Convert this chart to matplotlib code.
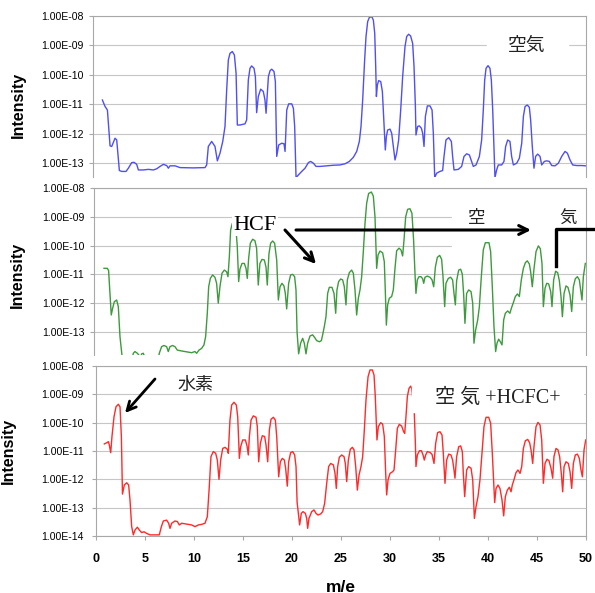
import numpy as np
import matplotlib.pyplot as plt
from matplotlib.patches import Rectangle, FancyArrowPatch
from matplotlib.lines import Line2D
from matplotlib.ticker import FixedLocator, NullLocator, FuncFormatter

plt.rcParams['font.family'] = ['Liberation Sans', 'Noto Sans CJK JP']

# (m/e, log10 intensity)
air = [(0.65, -10.86), (0.92, -11.08), (1.16, -11.20), (1.43, -12.42), (1.60, -12.44), (1.94, -12.16),
       (2.11, -12.22), (2.38, -13.26), (2.62, -13.29), (3.06, -13.29), (3.30, -13.18), (3.64, -12.99),
       (3.88, -12.98), (4.15, -13.05), (4.32, -13.24), (4.83, -13.24), (5.34, -13.22), (5.85, -13.24),
       (6.19, -13.20), (6.53, -13.12), (6.87, -13.05), (7.21, -13.09), (7.38, -13.18), (7.55, -13.10),
       (8.06, -13.10), (8.57, -13.16), (9.93, -13.17), (11.12, -13.16), (11.29, -13.07), (11.46, -12.44),
       (11.80, -12.27), (12.14, -12.44), (12.38, -12.93), (12.65, -12.67), (12.93, -12.27), (13.16, -11.76),
       (13.33, -10.52), (13.50, -9.50), (13.67, -9.27), (13.91, -9.21), (14.12, -9.33), (14.29, -9.95),
       (14.42, -11.71), (14.69, -11.71), (15.20, -11.67), (15.37, -11.54), (15.54, -10.18), (15.71, -9.78),
       (15.88, -9.70), (16.12, -9.78), (16.26, -10.06), (16.39, -11.29), (16.56, -10.74), (16.80, -10.49),
       (17.07, -10.57), (17.24, -10.86), (17.35, -11.31), (17.59, -10.06), (17.76, -9.86), (17.93, -9.81),
       (18.16, -9.89), (18.30, -10.23), (18.44, -12.78), (18.64, -12.39), (18.95, -12.33), (19.18, -12.35),
       (19.29, -12.61), (19.46, -11.20), (19.66, -10.99), (19.97, -10.99), (20.14, -11.14), (20.27, -11.76),
       (20.41, -13.50), (20.65, -13.41), (20.99, -13.29), (21.33, -13.18), (21.67, -12.99), (21.90, -12.95),
       (22.18, -13.01), (22.45, -13.12), (22.86, -13.12), (23.54, -13.10), (24.22, -13.08), (24.90, -13.07),
       (25.41, -13.03), (25.85, -12.95), (26.26, -12.81), (26.60, -12.61), (26.87, -12.27), (27.04, -11.76),
       (27.21, -10.86), (27.41, -9.50), (27.55, -8.70), (27.72, -8.19), (27.89, -8.05), (28.13, -8.02),
       (28.30, -8.14), (28.44, -8.59), (28.54, -9.72), (28.61, -10.74), (28.71, -10.35), (28.84, -10.20),
       (29.05, -10.23), (29.22, -10.57), (29.35, -11.42), (29.52, -12.56), (29.63, -12.10), (29.76, -11.88),
       (30.00, -11.85), (30.17, -11.99), (30.34, -12.44), (30.51, -12.90), (30.68, -12.67), (30.88, -12.22),
       (31.09, -11.20), (31.29, -10.06), (31.53, -9.04), (31.70, -8.70), (31.90, -8.62), (32.10, -8.68),
       (32.31, -8.93), (32.45, -9.72), (32.59, -11.08), (32.65, -12.05), (32.82, -11.76), (32.99, -11.74),
       (33.20, -11.82), (33.33, -11.99), (33.47, -12.44), (33.61, -11.42), (33.81, -11.06), (34.08, -11.06),
       (34.29, -11.20), (34.42, -11.99), (34.56, -13.50), (34.76, -13.35), (35.10, -13.29), (35.37, -13.26),
       (35.51, -12.78), (35.71, -12.22), (35.99, -12.14), (36.26, -12.27), (36.39, -12.78), (36.53, -13.24),
       (36.97, -13.22), (37.31, -13.12), (37.55, -12.78), (37.82, -12.69), (38.10, -12.73), (38.33, -12.95),
       (38.50, -13.12), (38.78, -13.07), (39.12, -12.78), (39.35, -12.22), (39.52, -11.20), (39.66, -10.18),
       (39.80, -9.78), (40.00, -9.69), (40.20, -9.78), (40.34, -10.18), (40.48, -11.20), (40.61, -12.44),
       (40.71, -13.50), (40.88, -13.24), (41.05, -13.07), (41.39, -13.07), (41.63, -12.95), (41.80, -12.44),
       (42.01, -12.22), (42.24, -12.27), (42.41, -12.78), (42.59, -13.07), (42.93, -13.01), (43.20, -12.84),
       (43.44, -12.33), (43.61, -11.42), (43.78, -11.08), (44.01, -11.03), (44.22, -11.11), (44.35, -11.54),
       (44.52, -12.44), (44.69, -13.18), (44.86, -12.78), (45.07, -12.70), (45.31, -12.78), (45.48, -13.07),
       (45.75, -12.95), (45.99, -12.93), (46.26, -12.95), (46.50, -13.09), (46.84, -13.10), (47.18, -13.01),
       (47.52, -12.78), (47.86, -12.61), (48.10, -12.67), (48.37, -12.90), (48.64, -13.07), (49.05, -13.09),
       (49.56, -13.09), (49.97, -13.10)]

hcf = [(0.82, -10.79), (1.16, -10.79), (1.29, -10.87), (1.43, -11.66), (1.56, -12.41), (1.70, -12.18),
       (1.87, -11.95), (2.11, -11.89), (2.28, -12.12), (2.45, -13.16), (2.65, -13.80), (2.80, -14.10),
       (3.60, -14.10), (3.81, -13.74), (3.98, -13.68), (4.22, -13.74), (4.42, -13.82), (4.55, -13.90),
       (4.66, -13.76), (4.83, -13.74), (4.95, -13.85), (5.20, -14.10), (6.30, -14.10), (6.46, -13.74),
       (6.70, -13.51), (6.94, -13.47), (7.21, -13.51), (7.38, -13.68), (7.55, -13.51), (7.82, -13.47),
       (8.06, -13.51), (8.30, -13.63), (8.74, -13.66), (9.25, -13.69), (9.76, -13.72), (10.10, -13.68),
       (10.27, -13.74), (10.51, -13.63), (10.78, -13.57), (11.02, -13.45), (11.19, -13.16), (11.36, -12.35),
       (11.50, -11.43), (11.67, -11.14), (11.90, -11.02), (12.14, -11.10), (12.31, -11.31), (12.48, -12.00),
       (12.65, -11.43), (12.86, -10.96), (13.10, -10.85), (13.33, -10.91), (13.47, -11.08), (13.61, -10.38),
       (13.74, -9.46), (13.91, -9.23), (14.12, -9.23), (14.29, -9.44), (14.42, -10.04), (14.56, -11.25),
       (14.69, -10.82), (14.90, -10.62), (15.14, -10.62), (15.31, -10.79), (15.44, -11.14), (15.58, -10.44),
       (15.75, -9.92), (15.99, -9.78), (16.22, -9.83), (16.39, -10.09), (16.56, -11.37), (16.73, -10.62),
       (16.94, -10.48), (17.18, -10.50), (17.35, -10.75), (17.48, -11.37), (17.65, -10.29), (17.82, -9.92),
       (18.03, -9.84), (18.23, -9.92), (18.44, -10.50), (18.61, -11.89), (18.78, -11.43), (18.98, -11.31),
       (19.18, -11.40), (19.32, -11.66), (19.46, -12.20), (19.66, -11.31), (19.86, -11.02), (20.07, -11.00),
       (20.27, -11.08), (20.41, -11.54), (20.52, -13.00), (20.68, -13.76), (20.88, -13.39), (21.09, -13.22),
       (21.26, -13.39), (21.43, -13.76), (21.60, -13.39), (21.84, -13.14), (22.11, -13.10), (22.31, -13.19),
       (22.52, -13.30), (22.79, -13.34), (23.00, -13.30), (23.13, -13.10), (23.30, -12.81), (23.47, -12.47),
       (23.64, -11.66), (23.81, -11.45), (24.08, -11.45), (24.29, -11.66), (24.46, -12.35), (24.59, -11.54),
       (24.76, -11.25), (24.97, -11.16), (25.17, -11.19), (25.34, -11.43), (25.51, -12.06), (25.65, -11.19),
       (25.85, -10.94), (26.09, -10.85), (26.26, -10.96), (26.43, -11.54), (26.60, -12.41), (26.77, -11.83),
       (26.94, -11.54), (27.11, -11.08), (27.28, -10.21), (27.45, -9.23), (27.62, -8.53), (27.82, -8.19),
       (28.10, -8.14), (28.30, -8.28), (28.47, -9.00), (28.57, -10.04), (28.64, -10.79), (28.78, -10.33),
       (28.98, -10.19), (29.25, -10.25), (29.42, -10.56), (29.52, -11.54), (29.63, -12.76), (29.76, -12.06),
       (29.93, -11.83), (30.17, -11.77), (30.34, -11.54), (30.51, -10.79), (30.68, -10.18), (30.92, -10.09),
       (31.12, -10.15), (31.29, -10.36), (31.43, -9.81), (31.60, -9.00), (31.80, -8.74), (32.04, -8.72),
       (32.24, -8.88), (32.41, -9.81), (32.55, -10.96), (32.65, -11.66), (32.79, -11.19), (32.96, -11.08),
       (33.16, -11.08), (33.33, -11.15), (33.44, -11.31), (33.57, -11.10), (33.81, -11.06), (34.08, -11.10),
       (34.29, -11.19), (34.46, -11.43), (34.63, -10.75), (34.83, -10.41), (35.07, -10.34), (35.27, -10.48),
       (35.41, -11.08), (35.58, -12.12), (35.71, -11.31), (35.95, -11.14), (36.19, -11.10), (36.39, -11.19),
       (36.53, -11.66), (36.67, -12.06), (36.80, -11.22), (37.01, -10.85), (37.21, -10.82), (37.38, -10.99),
       (37.52, -11.72), (37.65, -12.70), (37.82, -11.66), (38.03, -11.54), (38.27, -11.60), (38.44, -12.00),
       (38.57, -13.39), (38.74, -12.93), (38.95, -12.58), (39.12, -12.12), (39.32, -11.08), (39.52, -10.15),
       (39.73, -9.90), (40.10, -9.90), (40.27, -10.21), (40.44, -11.43), (40.61, -12.81), (40.78, -13.68),
       (40.92, -13.39), (41.09, -13.25), (41.26, -13.34), (41.43, -13.45), (41.60, -12.58), (41.77, -12.35),
       (42.01, -12.27), (42.24, -12.35), (42.38, -12.18), (42.59, -11.98), (42.79, -11.77), (43.00, -11.68),
       (43.20, -11.77), (43.40, -11.19), (43.61, -10.79), (43.82, -10.59), (44.01, -10.53), (44.22, -10.64),
       (44.35, -10.90), (44.52, -11.43), (44.69, -10.82), (44.90, -10.21), (45.14, -10.01), (45.34, -10.11),
       (45.51, -10.62), (45.65, -12.12), (45.82, -11.48), (45.99, -11.31), (46.19, -11.33), (46.40, -11.60),
       (46.53, -12.12), (46.70, -11.19), (46.90, -10.89), (47.11, -10.94), (47.28, -11.22), (47.45, -11.77),
       (47.59, -12.47), (47.76, -11.66), (47.96, -11.40), (48.16, -11.45), (48.37, -11.72), (48.54, -12.29),
       (48.71, -11.43), (48.91, -11.15), (49.12, -11.08), (49.32, -11.19), (49.46, -11.54), (49.59, -11.89),
       (49.73, -11.08), (49.93, -10.62)]

mix = [(0.85, -10.75), (1.09, -10.71), (1.26, -10.67), (1.36, -10.79), (1.50, -11.06), (1.63, -10.49),
       (1.84, -9.79), (2.04, -9.44), (2.28, -9.35), (2.45, -9.44), (2.59, -10.49), (2.70, -12.52),
       (2.89, -12.20), (3.13, -12.12), (3.33, -12.20), (3.47, -12.73), (3.64, -13.67), (3.81, -13.96),
       (3.98, -13.79), (4.22, -13.69), (4.42, -13.79), (4.66, -13.88), (4.90, -13.85), (5.17, -13.91),
       (5.51, -13.96), (6.02, -13.96), (6.46, -13.96), (6.67, -13.67), (6.87, -13.47), (7.21, -13.44),
       (7.41, -13.55), (7.55, -13.73), (7.72, -13.55), (8.06, -13.47), (8.30, -13.49), (8.50, -13.61),
       (8.74, -13.55), (9.25, -13.58), (9.76, -13.61), (10.10, -13.67), (10.44, -13.61), (10.78, -13.59),
       (11.12, -13.55), (11.36, -13.32), (11.56, -12.26), (11.73, -11.20), (11.97, -11.02), (12.21, -11.08),
       (12.38, -11.32), (12.55, -12.00), (12.72, -11.32), (12.93, -10.91), (13.16, -10.87), (13.40, -10.94),
       (13.50, -11.08), (13.67, -9.91), (13.84, -9.38), (14.08, -9.28), (14.32, -9.38), (14.46, -9.79),
       (14.63, -11.26), (14.76, -10.85), (14.97, -10.61), (15.24, -10.61), (15.41, -10.82), (15.54, -11.14),
       (15.65, -10.49), (15.82, -9.91), (16.05, -9.76), (16.33, -9.81), (16.46, -10.14), (16.60, -11.38),
       (16.77, -10.73), (16.97, -10.46), (17.21, -10.49), (17.35, -10.79), (17.52, -11.38), (17.69, -10.26),
       (17.86, -9.88), (18.10, -9.81), (18.30, -9.91), (18.44, -10.49), (18.64, -11.91), (18.81, -11.38),
       (19.01, -11.26), (19.22, -11.32), (19.35, -11.61), (19.52, -12.24), (19.66, -11.38), (19.86, -11.06),
       (20.07, -11.02), (20.27, -11.14), (20.41, -11.55), (20.52, -12.80), (20.65, -13.20), (20.78, -13.61),
       (20.95, -13.20), (21.12, -13.14), (21.36, -13.20), (21.50, -13.38), (21.60, -13.73), (21.73, -13.38),
       (22.01, -13.14), (22.24, -13.08), (22.45, -13.20), (22.65, -13.26), (22.93, -13.22), (23.13, -13.14),
       (23.33, -12.85), (23.54, -12.14), (23.74, -11.55), (23.95, -11.44), (24.22, -11.49), (24.39, -11.79),
       (24.52, -12.32), (24.66, -11.55), (24.83, -11.22), (25.07, -11.14), (25.31, -11.20), (25.44, -11.44),
       (25.58, -12.08), (25.75, -11.32), (25.95, -10.94), (26.16, -10.87), (26.33, -10.96), (26.50, -11.55),
       (26.67, -12.38), (26.84, -11.85), (27.04, -11.55), (27.21, -11.20), (27.38, -10.26), (27.55, -9.20),
       (27.76, -8.38), (27.96, -8.14), (28.20, -8.14), (28.37, -8.32), (28.50, -9.08), (28.61, -10.14),
       (28.67, -10.61), (28.81, -10.14), (29.05, -10.00), (29.25, -10.05), (29.42, -10.49), (29.56, -11.79),
       (29.66, -12.55), (29.80, -12.02), (30.00, -11.79), (30.27, -11.73), (30.41, -11.67), (30.58, -10.96),
       (30.75, -10.20), (30.95, -10.06), (31.19, -10.12), (31.39, -10.32), (31.50, -10.38), (31.63, -9.79),
       (31.77, -9.08), (31.94, -8.79), (32.11, -8.71), (32.21, -8.79), (32.35, -9.20), (32.48, -9.67),
       (32.59, -10.73), (32.65, -11.55), (32.79, -11.14), (33.00, -10.99), (33.20, -10.99), (33.37, -11.14),
       (33.50, -11.32), (33.64, -11.14), (33.81, -11.02), (34.08, -11.05), (34.29, -11.12), (34.49, -11.44),
       (34.66, -10.73), (34.86, -10.35), (35.10, -10.32), (35.31, -10.44), (35.44, -11.08), (35.61, -12.14),
       (35.78, -11.32), (35.99, -11.11), (36.22, -11.14), (36.39, -11.32), (36.53, -11.67), (36.63, -11.96),
       (36.80, -11.20), (37.01, -10.85), (37.21, -10.82), (37.38, -11.02), (37.48, -11.79), (37.62, -12.61),
       (37.82, -11.67), (38.03, -11.55), (38.27, -11.61), (38.44, -12.02), (38.61, -13.38), (38.78, -12.96),
       (38.98, -12.61), (39.18, -12.02), (39.39, -11.08), (39.59, -10.14), (39.80, -9.81), (40.07, -9.81),
       (40.27, -10.02), (40.44, -11.08), (40.58, -12.14), (40.68, -12.82), (40.82, -12.32), (41.02, -12.20),
       (41.22, -12.32), (41.43, -12.73), (41.60, -13.29), (41.77, -12.61), (41.97, -12.38), (42.18, -12.28),
       (42.35, -12.44), (42.48, -12.20), (42.65, -12.02), (42.86, -11.76), (43.06, -11.67), (43.27, -11.79),
       (43.44, -11.55), (43.61, -10.91), (43.81, -10.64), (44.05, -10.59), (44.25, -10.71), (44.39, -10.96),
       (44.56, -11.44), (44.69, -10.85), (44.90, -10.14), (45.10, -9.99), (45.31, -10.08), (45.48, -10.61),
       (45.65, -12.14), (45.82, -11.44), (46.02, -11.29), (46.22, -11.34), (46.43, -11.61), (46.60, -11.96),
       (46.73, -11.20), (46.94, -10.91), (47.14, -10.96), (47.31, -11.20), (47.48, -11.79), (47.62, -12.44),
       (47.76, -11.55), (47.96, -11.38), (48.20, -11.44), (48.37, -11.73), (48.54, -12.32), (48.71, -11.44),
       (48.91, -11.14), (49.12, -11.11), (49.32, -11.26), (49.49, -11.67), (49.63, -11.91), (49.80, -10.96),
       (49.97, -10.61)]

x_ticks = [0, 5, 10, 15, 20, 25, 30, 35, 40, 45, 50]
y_ticks_top = [1e-8, 1e-9, 1e-10, 1e-11, 1e-12, 1e-13]
y_ticks_bot = [1e-8, 1e-9, 1e-10, 1e-11, 1e-12, 1e-13, 1e-14]

W, H = 595, 593
fig = plt.figure(figsize=(5.95, 5.93), dpi=100)


def fx(px):
    return px / W


def fy(py):
    return 1 - py / H


def panel(left, top, bottom, right=586):
    return fig.add_axes([fx(left), fy(bottom), (right - left) / W, (bottom - top) / H])


ax1 = panel(93, 16, 177)
ax2 = panel(94, 188, 355)
ax3 = panel(96, 366, 536)

series = [(ax1, air, '#4f4ff2', (-0.31, 50), (10 ** -13.48, 1e-8), y_ticks_top),
          (ax2, hcf, '#3d9a3d', (-0.20, 50), (10 ** -13.8, 1e-8), y_ticks_top),
          (ax3, mix, '#ff2a2a', (0, 50), (1e-14, 1e-8), y_ticks_bot)]

for ax, data, col, xl, yl, yt in series:
    me = np.array([p[0] for p in data])
    inten = 10 ** np.array([p[1] for p in data])
    ax.plot(me, inten, color=col, lw=1.0, zorder=2)
    ax.set_yscale('log')
    ax.set_xlim(*xl)
    ax.set_ylim(*yl)
    ax.yaxis.set_major_locator(FixedLocator(yt))
    ax.yaxis.set_minor_locator(NullLocator())
    ax.yaxis.set_major_formatter(FuncFormatter(lambda v, p: f'{v:.2E}'))
    ax.grid(axis='y', color='#c6c6c6', lw=0.8)
    ax.set_axisbelow(True)
    for s in ax.spines.values():
        s.set_color('#a8a8a8')
        s.set_linewidth(0.8)
    ax.tick_params(axis='y', length=3, color='#a8a8a8', labelsize=7.6, pad=4)
    ax.set_xticks(x_ticks)

for ax in (ax1, ax2):
    ax.spines['bottom'].set_visible(False)
    ax.tick_params(axis='x', length=0, labelbottom=False)

ax3.tick_params(axis='y', pad=6)
ax3.tick_params(axis='x', length=3, color='#a8a8a8', labelsize=9, pad=9)
for lab in ax3.get_xticklabels():
    lab.set_fontweight('bold')

# axis titles
for py, px in [(105, 18), (275, 17), (451, 8)]:
    fig.text(fx(px), fy(py), 'Intensity', rotation=90, ha='center', va='center',
             fontsize=11.5, fontweight='bold')
fig.text(fx(341), fy(587), 'm/e', ha='center', va='center', fontsize=12.5, fontweight='bold')

jp = ['Noto Sans CJK JP']

# top panel label
ax1.add_patch(Rectangle((fx(487), fy(56)), 81 / W, 20 / H, transform=fig.transFigure,
                        color='white', zorder=1.8))
fig.text(fx(527), fy(45), '空気', family=jp, fontsize=13.5, ha='center', va='center',
         color='#222222')

# middle panel annotations
ax2.add_patch(Rectangle((fx(452), fy(249)), 138 / W, 49 / H, transform=fig.transFigure,
                        color='white', zorder=1.8))
fig.text(fx(255), fy(225), 'HCF', family=['Liberation Serif'], fontsize=16, ha='center',
         va='center', bbox=dict(fc='white', ec='none', pad=1))
fig.text(fx(477), fy(218), '空', family=jp, fontsize=12.5, ha='center', va='center',
         color='#222222')
fig.text(fx(568), fy(219), '気', family=jp, fontsize=12.5, ha='center', va='center',
         color='#222222')
for a, b in [((285, 230), (316, 264)), ((296, 230), (531, 230))]:
    fig.add_artist(FancyArrowPatch((fx(a[0]), fy(a[1])), (fx(b[0]), fy(b[1])),
                                   transform=fig.transFigure, arrowstyle='->',
                                   mutation_scale=16, lw=2.2, color='black',
                                   shrinkA=0, shrinkB=0))
fig.add_artist(Line2D([fx(556), fx(556), fx(595)], [fy(266), fy(229), fy(229)],
                      transform=fig.transFigure, color='black', lw=2.4))

# bottom panel annotations
fig.add_artist(Rectangle((fx(412), fy(412)), 171 / W, 40 / H, transform=fig.transFigure,
                         color='white', zorder=2.5))
fig.text(fx(498), fy(398), '空 気 +HCFC+', family=['Liberation Serif', 'Noto Sans CJK JP'],
         fontsize=14.5, ha='center', va='center', color='#222222', zorder=3)
fig.text(fx(195), fy(385), '水素', family=jp, fontsize=13, ha='center', va='center',
         color='#222222')
fig.add_artist(FancyArrowPatch((fx(155), fy(379)), (fx(125), fy(413)),
                               transform=fig.transFigure, arrowstyle='->',
                               mutation_scale=16, lw=2.0, color='black',
                               shrinkA=0, shrinkB=0))

fig.savefig('out.png', dpi=100)
